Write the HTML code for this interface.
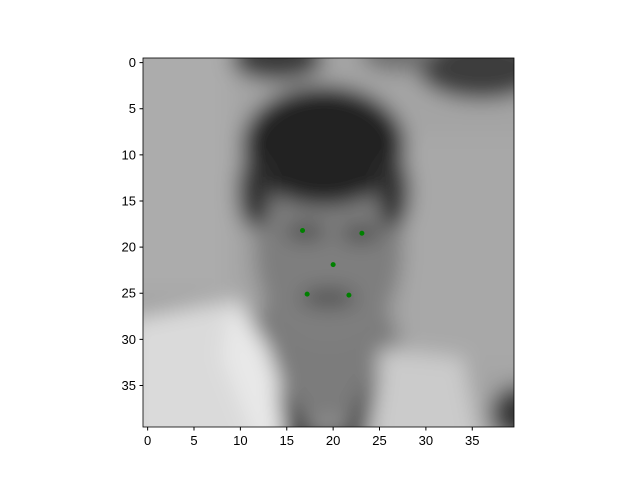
<!DOCTYPE html>
<html><head><meta charset="utf-8"><style>
body{margin:0;background:#fff;font-family:"Liberation Sans",sans-serif;}
svg text{font-family:"Liberation Sans",sans-serif;font-size:13px;fill:#000}
</style></head><body>
<svg width="640" height="480" viewBox="0 0 640 480">
<defs>
<filter id="blur" x="-20%" y="-20%" width="140%" height="140%"><feGaussianBlur stdDeviation="1.1"/></filter>
<clipPath id="clip"><rect x="143" y="58" width="371" height="369"/></clipPath>
</defs>
<g clip-path="url(#clip)">
<svg x="143" y="58" width="371" height="369" viewBox="-0.5 -0.5 40 40" preserveAspectRatio="none">
<g filter="url(#blur)">
<rect x="-5" y="-5" width="50" height="50" fill="#a4a4a4"/>
<rect x="-5" y="-5" width="14" height="30" fill="#acacac"/>
<rect x="28" y="8" width="15" height="25" fill="#a8a8a8"/>
<ellipse cx="14" cy="-0.5" rx="5" ry="2.5" fill="#3a3a3a"/>
<ellipse cx="36" cy="0.5" rx="7" ry="3.5" fill="#3c3c3c"/>
<ellipse cx="27" cy="-1" rx="4" ry="2" fill="#707070"/>
<ellipse cx="19" cy="31" rx="8" ry="8" fill="#7c7c7c"/>
<ellipse cx="19.5" cy="20" rx="8" ry="11" fill="#7e7e7e"/>
<ellipse cx="19" cy="9" rx="8.8" ry="6.5" fill="#242424"/>
<ellipse cx="11.5" cy="14" rx="1.8" ry="4" fill="#333"/>
<ellipse cx="26.5" cy="14" rx="1.8" ry="4" fill="#333"/>
<ellipse cx="17" cy="18.3" rx="2.2" ry="0.9" fill="#4a4a4a"/>
<ellipse cx="23" cy="18.5" rx="2.2" ry="0.9" fill="#4a4a4a"/>
<ellipse cx="19.5" cy="25.5" rx="3" ry="1" fill="#505050"/>
<path d="M-2 28 L8 26 L11 30 L14 38 L14 42 L-2 42 Z" fill="#dadada"/>
<path d="M9 25 L13 31 L16 40 L12 42 L8 32 Z" fill="#e8e8e8"/>
<path d="M25 31 L34 32 L36 42 L24 42 Z" fill="#cbcbcb"/>
<path d="M14 35 L18 40 L21 40 L25 33 L23 42 L15 42 Z" fill="#3a3a3a"/>
<ellipse cx="40" cy="38" rx="3" ry="3" fill="#353535"/>
</g>
</svg>
</g>
<rect x="143" y="58" width="371" height="369" fill="none" stroke="#000" stroke-width="0.8"/>
<g id="ticks"></g>
<g id="points"></g>
<script>
const xTickLabels=[0,5,10,15,20,25,30,35];
const yTickLabels=[0,5,10,15,20,25,30,35];
const pointsX=[16.7,23.1,20.0,17.2,21.7];
const pointsY=[18.2,18.5,21.9,25.1,25.2];
const x0=143,y0=58,w=371,h=369,n=40;
function sx(v){return x0+(v+0.5)*w/n;}
function sy(v){return y0+(v+0.5)*h/n;}
const NS="http://www.w3.org/2000/svg";
const tg=document.getElementById('ticks');
xTickLabels.forEach(v=>{
 const l=document.createElementNS(NS,'line');
 l.setAttribute('x1',sx(v));l.setAttribute('x2',sx(v));l.setAttribute('y1',y0+h);l.setAttribute('y2',y0+h+3.5);l.setAttribute('stroke','#000');
 
 
 tg.appendChild(l);
 const t=document.createElementNS(NS,'text');
 t.setAttribute('x',sx(v));t.setAttribute('y',y0+h+18);t.setAttribute('text-anchor','middle');t.textContent=v;
 
 
 tg.appendChild(t);
});
yTickLabels.forEach(v=>{
 const l=document.createElementNS(NS,'line');
 l.setAttribute('x1',x0-3.5);l.setAttribute('x2',x0);l.setAttribute('y1',sy(v));l.setAttribute('y2',sy(v));l.setAttribute('stroke','#000');
 
 
 tg.appendChild(l);
 const t=document.createElementNS(NS,'text');
 t.setAttribute('x',x0-7);t.setAttribute('y',sy(v)+4.5);t.setAttribute('text-anchor','end');t.textContent=v;
 
 
 tg.appendChild(t);
});
const pg=document.getElementById('points');
pointsX.forEach((v,i)=>{
 const c=document.createElementNS(NS,'circle');
 c.setAttribute('cx',sx(v));c.setAttribute('cy',sy(pointsY[i]));c.setAttribute('r',2.5);c.setAttribute('fill','#008000');
 
 
 pg.appendChild(c);
});
</script>
</svg>
</body></html>
